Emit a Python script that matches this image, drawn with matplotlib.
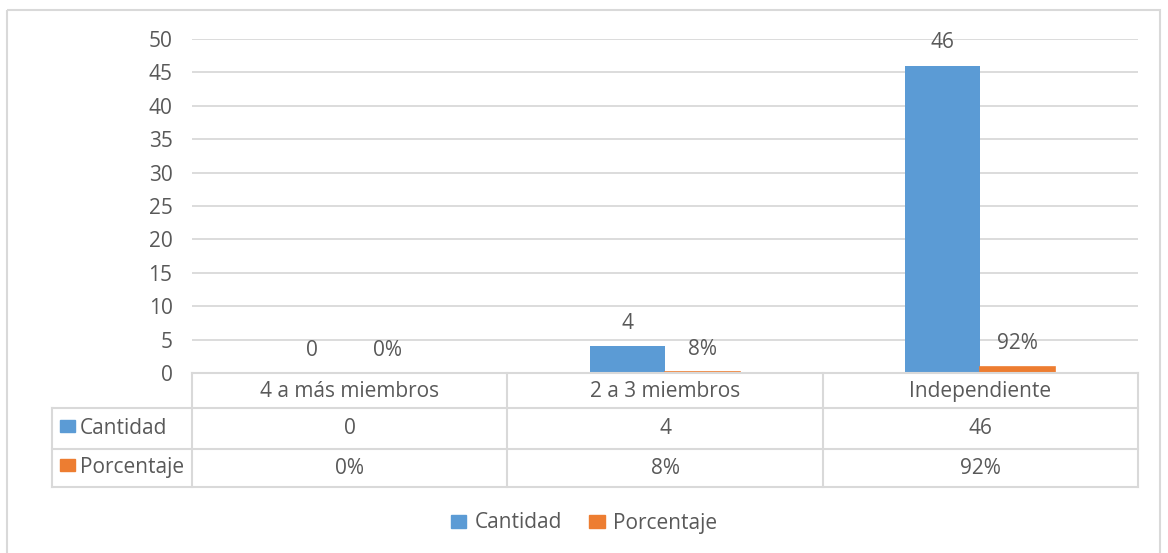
import numpy as np
import matplotlib
matplotlib.use('Agg')
from matplotlib import pyplot as plt
from matplotlib.patches import Rectangle, Patch

categorias = ['4 a más miembros', '2 a 3 miembros', 'Independiente']
cantidad = [0, 4, 46]
porcentaje = [0.00, 0.08, 0.92]
etiq_cantidad = ['0', '4', '46']
etiq_porcentaje = ['0%', '8%', '92%']
series = ['Cantidad', 'Porcentaje']

azul = '#5b9bd5'
naranja = '#ed7d31'
gris_txt = '#595959'
gris_lin = '#d9d9d9'

plt.rcParams['font.family'] = ['Open Sans', 'DejaVu Sans']
fs = 15

W, H = 1168, 553
fig = plt.figure(figsize=(W / 100, H / 100), dpi=100)

# pixel helpers
def fx(px):
    return px / W

def fy(py):
    return 1 - py / H

left, right, top, bottom = 192, 1138, 39, 373
ax = fig.add_axes([fx(left), fy(bottom), fx(right) - fx(left), fy(top) - fy(bottom)])

x = np.arange(len(categorias))
w = 0.238
b1 = ax.bar(x - w / 2, cantidad, w, color=azul)
b2 = ax.bar(x + w / 2, porcentaje, w, color=naranja, edgecolor=naranja, linewidth=1.2)
ax.set_xlim(-0.5, len(categorias) - 0.5)
ax.set_ylim(0, 50)
ax.set_yticks(range(0, 51, 5))
ax.set_xticks([])
ax.grid(axis='y', color=gris_lin, linewidth=1.3)
ax.set_axisbelow(True)
for s in ax.spines.values():
    s.set_visible(False)
ax.tick_params(axis='y', length=0, pad=14, labelsize=fs, labelcolor=gris_txt)

for xi, v, t in zip(x, cantidad, etiq_cantidad):
    ax.annotate(t, (xi - w / 2, v), xytext=(0, 9), textcoords='offset points',
                ha='center', va='bottom', fontsize=fs, color=gris_txt)
for xi, v, t in zip(x, porcentaje, etiq_porcentaje):
    ax.annotate(t, (xi + w / 2, v), xytext=(0, 9), textcoords='offset points',
                ha='center', va='bottom', fontsize=fs, color=gris_txt)

# overlay for table, border and legend
ov = fig.add_axes([0, 0, 1, 1])
ov.set_xlim(0, W)
ov.set_ylim(H, 0)
ov.axis('off')
ov.patch.set_alpha(0)

ov.add_patch(Rectangle((7, 10), 1153, 560, fill=False, edgecolor=gris_lin, linewidth=1.5))

cols = [192, 507, 823, 1138]
rows = [373, 408, 449, 487]
hdr_left = 52
lc = dict(color=gris_lin, linewidth=1.5)
# horizontal lines
ov.plot([cols[0], cols[-1]], [rows[0], rows[0]], **lc)
for r in rows[1:]:
    ov.plot([hdr_left, cols[-1]], [r, r], **lc)
# vertical lines
for c in cols:
    ov.plot([c, c], [rows[0], rows[-1]], **lc)
ov.plot([hdr_left, hdr_left], [rows[1], rows[-1]], **lc)

for i, cat in enumerate(categorias):
    cx = (cols[i] + cols[i + 1]) / 2
    ov.text(cx, (rows[0] + rows[1]) / 2 + 1, cat, ha='center', va='center', fontsize=fs, color=gris_txt)
    ov.text(cx, (rows[1] + rows[2]) / 2, etiq_cantidad[i], ha='center', va='center', fontsize=fs, color=gris_txt)
    ov.text(cx, (rows[2] + rows[3]) / 2, etiq_porcentaje[i], ha='center', va='center', fontsize=fs, color=gris_txt)

for j, (nombre, col) in enumerate(zip(series, [azul, naranja])):
    cy = (rows[j + 1] + rows[j + 2]) / 2
    ov.add_patch(Rectangle((60, cy - 9), 15, 12, color=col))
    ov.text(80, cy, nombre, ha='left', va='center', fontsize=fs, color=gris_txt)

handles = [Patch(color=azul, label=series[0]), Patch(color=naranja, label=series[1])]
fig.legend(handles=handles, loc='center', bbox_to_anchor=(0.5, fy(523)), ncol=2,
           frameon=False, fontsize=fs, labelcolor=gris_txt, handlelength=0.75,
           handleheight=0.6, handletextpad=0.4, columnspacing=1.3)

fig.savefig('out.png', dpi=100, facecolor='white')
